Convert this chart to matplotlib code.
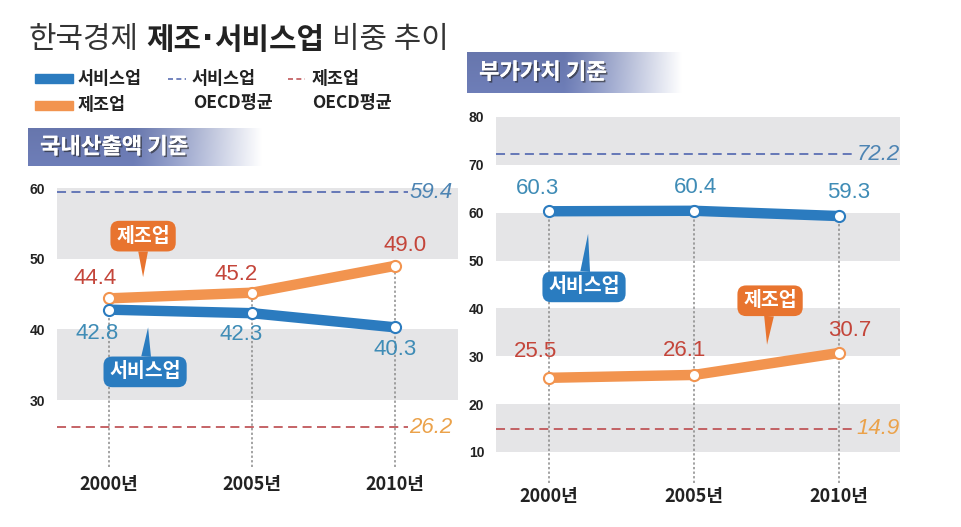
import matplotlib
matplotlib.use('Agg')
import matplotlib.pyplot as plt
import matplotlib.patheffects as pe
from matplotlib.patches import Rectangle
import numpy as np
from matplotlib.colors import to_rgb

# ---------------- data ----------------
years = ['2000년', '2005년', '2010년']
output_service = [42.8, 42.3, 40.3]
output_manuf = [44.4, 45.2, 49.0]
value_service = [60.3, 60.4, 59.3]
value_manuf = [25.5, 26.1, 30.7]
oecd_output_service = 59.4
oecd_output_manuf = 26.2
oecd_value_service = 72.2
oecd_value_manuf = 14.9
left_ticks = [30, 40, 50, 60]
right_ticks = [10, 20, 30, 40, 50, 60, 70, 80]
left_bands = [(30, 40), (50, 60)]
right_bands = [(10, 20), (30, 40), (50, 60), (70, 80)]

KR = ['Noto Sans CJK KR', 'DejaVu Sans']
NUM = ['Liberation Sans', 'DejaVu Sans']
plt.rcParams['font.family'] = KR

BLUE = '#2b7bbf'
ORANGE = '#f2944f'
CALL_OR = '#e8742f'
CALL_BL = '#2a7cc0'
RED_TXT = '#c4453a'
BLUE_TXT = '#3f8cb6'
BAND = '#e5e5e7'
DASH_BL = '#5b6fb3'
DASH_RD = '#c0575a'
OECD_BL = '#4d84b3'
OECD_OR = '#eba24a'
DARK = '#222222'

W, H = 962, 527
fig = plt.figure(figsize=(W / 100, H / 100), dpi=100)

ov = fig.add_axes([0, 0, 1, 1])
ov.set_xlim(0, W)
ov.set_ylim(H, 0)
ov.axis('off')


def px_axes(x0, x1, y0, y1):
    return fig.add_axes([x0 / W, 1 - y1 / H, (x1 - x0) / W, (y1 - y0) / H])


# ---------------- title ----------------
TFS = 21.5
t1 = ov.text(28, 40, '한국경제', fontsize=TFS, color='#333333', va='center', ha='left')
t2 = ov.annotate('제조', xy=(1, 0.5), xycoords=t1, xytext=(6, 0),
                 textcoords='offset points', va='center', ha='left', fontsize=TFS,
                 fontweight='bold', color=DARK)
t2d = ov.annotate('·', xy=(1, 0.5), xycoords=t2, xytext=(0.5, 0),
                  textcoords='offset points', va='center', ha='left', fontsize=TFS,
                  fontweight='bold', color=DARK, family=['DejaVu Sans'])
t2b = ov.annotate('서비스업', xy=(1, 0.5), xycoords=t2d, xytext=(0.5, 0),
                  textcoords='offset points', va='center', ha='left', fontsize=TFS,
                  fontweight='bold', color=DARK)
ov.annotate('비중 추이', xy=(1, 0.5), xycoords=t2b, xytext=(6, 0),
            textcoords='offset points', va='center', ha='left', fontsize=TFS,
            color='#333333')

# ---------------- legend ----------------
LFS = 12.5
ov.add_patch(Rectangle((35, 74), 38, 9, color=BLUE))
ov.add_patch(Rectangle((35, 101), 38, 9, color=ORANGE))
ov.text(78, 79, '서비스업', fontsize=LFS, fontweight='bold', color=DARK, va='center')
ov.text(78, 105, '제조업', fontsize=LFS, fontweight='bold', color=DARK, va='center')
ov.plot([168, 186], [79, 79], ls=(0, (3, 2)), color=DASH_BL, lw=1.2)
ov.text(192, 79, '서비스업', fontsize=LFS, fontweight='bold', color=DARK, va='center')
ov.text(193, 103, 'OECD평균', fontsize=LFS, fontweight='bold', color=DARK, va='center')
ov.plot([288, 305], [79, 79], ls=(0, (3, 2)), color=DASH_RD, lw=1.2)
ov.text(312, 79, '제조업', fontsize=LFS, fontweight='bold', color=DARK, va='center')
ov.text(312, 103, 'OECD평균', fontsize=LFS, fontweight='bold', color=DARK, va='center')


# ---------------- header boxes ----------------
def header(x0, x1, y0, y1, text):
    n = 300
    t = np.linspace(0, 1, n)
    c0 = np.array(to_rgb('#6e7eb8'))
    f = np.clip((t - 0.45) / 0.55, 0, 1) ** 1.1
    rows = 40
    v = np.linspace(0, 1, rows)[:, None]
    base = c0[None, None, :] * (1 - 0.06 * (1 - v[..., None]))
    img = base + (1 - base) * f[None, :, None]
    img = np.clip(img, 0, 1)
    ov.imshow(img, extent=(x0, x1, y1, y0), aspect='auto', zorder=1, interpolation='bilinear')
    ov.text(x0 + 12, (y0 + y1) / 2, text, fontsize=16, fontweight='bold', color='white',
            va='center', ha='left', zorder=2,
            path_effects=[pe.withSimplePatchShadow(offset=(1.2, -1.2), shadow_rgbFace='#222',
                                                   alpha=0.6), pe.Normal()])


header(28, 262, 128, 166, '국내산출액 기준')
header(467, 682, 52, 93, '부가가치 기준')
ov.set_xlim(0, W)
ov.set_ylim(H, 0)


# ---------------- panels ----------------
def panel(ax, service, manuf, oecd_s, oecd_m, ticks, bands, xlim, ylim, dash_end,
          lab_off_s, lab_off_m, fs_num, xpad):
    ax.set_xlim(*xlim)
    ax.set_ylim(*ylim)
    for s in ax.spines.values():
        s.set_visible(False)
    for lo, hi in bands:
        ax.axhspan(lo, hi, color=BAND, lw=0, zorder=0)
    x = np.arange(len(years))
    tops = np.maximum(service, manuf)
    ax.vlines(x, ylim[0], tops, colors='#8a8a8a', linestyles=(0, (1.5, 1.5)), lw=1.1, zorder=1)
    ax.hlines(oecd_s, xlim[0], dash_end, colors=DASH_BL, linestyles=(0, (5, 3)), lw=1.3, zorder=2)
    ax.hlines(oecd_m, xlim[0], dash_end, colors=DASH_RD, linestyles=(0, (5, 3)), lw=1.3, zorder=2)
    ax.text(dash_end + 0.01, oecd_s, f'{oecd_s:.1f}', fontsize=fs_num, style='italic',
            color=OECD_BL, va='center', ha='left', family=NUM, zorder=5)
    ax.text(dash_end + 0.01, oecd_m, f'{oecd_m:.1f}', fontsize=fs_num, style='italic',
            color=OECD_OR, va='center', ha='left', family=NUM, zorder=5)
    ax.plot(x, manuf, color=ORANGE, lw=7.5, solid_capstyle='round', zorder=3,
            marker='o', ms=8, mfc='white', mec=ORANGE, mew=1.5)
    ax.plot(x, service, color=BLUE, lw=7.5, solid_capstyle='round', zorder=3,
            marker='o', ms=8, mfc='white', mec=BLUE, mew=1.5)
    for xi, v, off in zip(x, service, lab_off_s):
        ax.annotate(f'{v:.1f}', (xi, v), xytext=off, textcoords='offset pixels',
                    ha='center', va='center', fontsize=fs_num, color=BLUE_TXT,
                    family=NUM, zorder=5)
    for xi, v, off in zip(x, manuf, lab_off_m):
        ax.annotate(f'{v:.1f}', (xi, v), xytext=off, textcoords='offset pixels',
                    ha='center', va='center', fontsize=fs_num, color=RED_TXT,
                    family=NUM, zorder=5)
    ax.set_yticks(ticks)
    ax.set_yticklabels([str(t) for t in ticks], fontsize=10, fontweight='bold',
                       family=NUM, color=DARK)
    ax.set_xticks(x)
    ax.set_xticklabels(years, fontsize=13, fontweight='bold', color=DARK)
    ax.tick_params(axis='y', length=0, pad=8.5)
    ax.tick_params(axis='x', length=0, pad=xpad)


def callout(ax, text, tip, box, color):
    ax.annotate(text, xy=tip, xytext=box, textcoords='data', ha='center', va='center',
                color='white', fontsize=14, fontweight='bold', zorder=6,
                bbox=dict(boxstyle='round,pad=0.3,rounding_size=0.45', fc=color, ec='none'),
                arrowprops=dict(arrowstyle='wedge,tail_width=0.5,shrink_factor=0.5',
                                fc=color, ec='none', shrinkA=0, shrinkB=0))


axL = px_axes(57, 458, 181, 466.6)
panel(axL, output_service, output_manuf, oecd_output_service, oecd_output_manuf,
      left_ticks, left_bands, (-0.364, 2.44), (20.6, 61), 2.09,
      [(-12, -24), (-11, -21), (0, -22)], [(-14, 20), (-16, 18), (10, 20)], 16, 6)
callout(axL, '제조업', (0.238, 47.4), (0.238, 53.2), CALL_OR)
callout(axL, '서비스업', (0.273, 40.3), (0.252, 34.0), CALL_BL)

axR = px_axes(496, 900, 112.2, 483.1)
panel(axR, value_service, value_manuf, oecd_value_service, oecd_value_manuf,
      right_ticks, right_bands, (-0.366, 2.42), (3.5, 81), 2.11,
      [(-12, 23), (1, 23), (10, 24)], [(-14, 26), (-10, 24), (11, 22)], 16, 3)
callout(axR, '서비스업', (0.269, 55.6), (0.241, 44.5), CALL_BL)
callout(axR, '제조업', (1.503, 32.4), (1.524, 41.6), CALL_OR)

fig.savefig('out.png', dpi=100)
